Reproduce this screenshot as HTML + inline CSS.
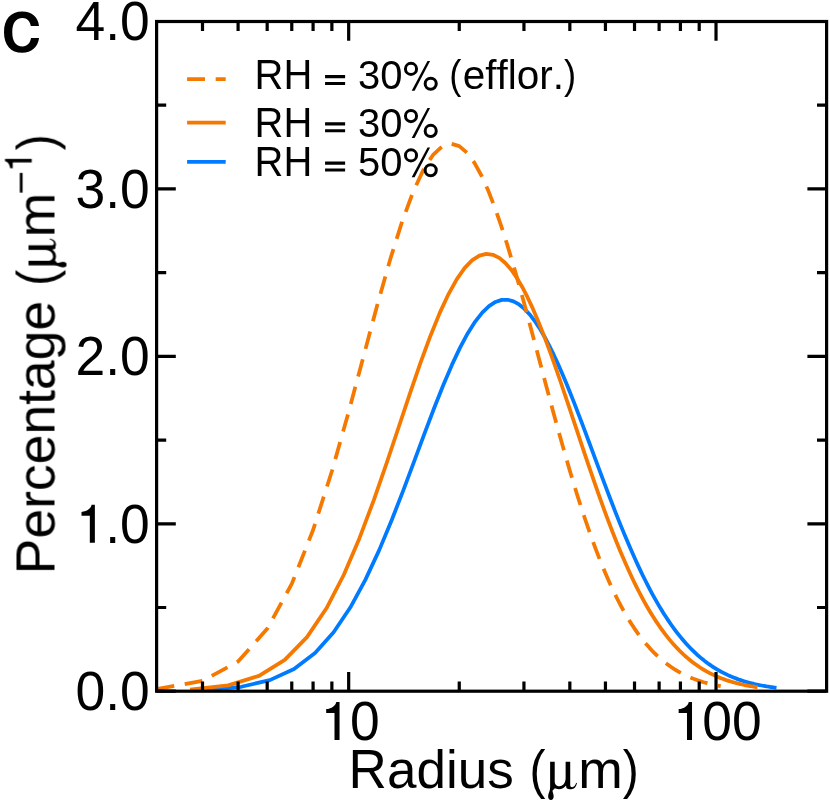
<!DOCTYPE html>
<html><head><meta charset="utf-8"><title>C</title>
<style>
html,body{margin:0;padding:0;background:#fff;}
body{width:830px;height:802px;overflow:hidden;}
svg{display:block;}
text{font-family:"Liberation Sans",sans-serif;fill:#000;font-kerning:none;font-variant-ligatures:none;white-space:pre;}
</style></head><body>
<svg width="830" height="802" viewBox="0 0 830 802">
<rect width="830" height="802" fill="#fff"/>
<defs><clipPath id="cp"><rect x="156.6" y="21.5" width="670.0" height="669.7"/></clipPath></defs>
<g clip-path="url(#cp)" fill="none" stroke-linejoin="round" stroke-linecap="butt">
<polyline points="206.43,689.94 241.25,686.76 269.82,680.10 294.04,668.94 315.06,652.90 333.63,632.20 350.26,607.54 365.32,579.89 379.09,550.35 391.75,519.99 403.49,489.81 414.42,460.63 424.65,433.12 434.27,407.79 443.33,384.97 451.91,364.89 460.05,347.64 467.80,333.23 475.19,321.59 482.25,312.60 489.01,306.11 495.49,301.94 501.73,299.89 507.72,299.76 513.50,301.34 519.08,304.44 524.47,308.87 529.69,314.45 534.74,321.02 539.63,328.40 544.38,336.48 548.99,345.11 553.47,354.18 557.83,363.59 562.07,373.24 566.21,383.06 570.24,392.97 574.17,402.91 578.00,412.82 581.75,422.67 585.41,432.40 588.98,441.99 592.48,451.40 595.91,460.62 599.26,469.63 602.54,478.41 605.76,486.95 608.91,495.25 612.00,503.28 615.03,511.06 618.01,518.58 620.93,525.84 623.80,532.85 626.62,539.59 629.39,546.09 632.11,552.33 634.79,558.33 637.42,564.10 640.01,569.63 642.56,574.94 645.07,580.02 647.54,584.90 649.97,589.57 652.37,594.04 654.73,598.32 657.05,602.42 659.34,606.33 661.60,610.08 663.83,613.66 666.03,617.09 668.20,620.36 670.34,623.49 672.45,626.48 674.53,629.33 676.58,632.06 678.61,634.66 680.62,637.15 682.60,639.52 684.55,641.79 686.48,643.96 688.39,646.02 690.28,648.00 692.14,649.88 693.98,651.68 695.81,653.40 697.61,655.04 699.39,656.61 701.15,658.10 702.89,659.53 704.61,660.90 706.32,662.20 708.00,663.44 709.67,664.63 711.32,665.76 712.96,666.85 714.58,667.88 716.18,668.87 717.76,669.82 719.33,670.72 720.89,671.58 722.43,672.40 723.95,673.19 725.47,673.94 726.96,674.66 728.44,675.35 729.91,676.01 731.37,676.63 732.81,677.24 734.24,677.81 735.66,678.36 737.06,678.88 738.45,679.39 739.83,679.87 741.20,680.33 742.56,680.77 743.90,681.19 745.24,681.59 746.56,681.98 747.87,682.35 749.17,682.70 750.47,683.04 751.75,683.36 753.02,683.67 754.28,683.97 755.53,684.25 756.77,684.53 758.00,684.79 759.22,685.04 760.43,685.28 761.63,685.51 762.83,685.73 764.01,685.94 765.19,686.14 766.36,686.34 767.52,686.52 768.67,686.70 769.81,686.87 770.95,687.04 772.07,687.20 773.19,687.35 774.30,687.49 775.41,687.63 776.50,687.76" stroke="#007bff" stroke-width="3.75"/>
<polyline points="190.06,689.71 228.22,685.36 259.00,675.87 284.79,659.89 306.98,637.12 326.46,608.29 343.82,574.75 359.47,538.19 373.72,500.30 386.81,462.64 398.90,426.49 410.14,392.85 420.64,362.44 430.49,335.71 439.77,312.90 448.53,294.06 456.85,279.11 464.75,267.89 472.27,260.14 479.46,255.58 486.34,253.91 492.93,254.80 499.26,257.93 505.35,263.02 511.22,269.77 516.88,277.91 522.34,287.21 527.62,297.44 532.74,308.41 537.69,319.94 542.50,331.88 547.16,344.09 551.69,356.45 556.10,368.87 560.39,381.25 564.57,393.53 568.64,405.65 572.61,417.55 576.48,429.20 580.26,440.56 583.95,451.61 587.56,462.32 591.09,472.69 594.54,482.70 597.92,492.36 601.23,501.65 604.48,510.57 607.66,519.14 610.77,527.35 613.83,535.21 616.83,542.73 619.77,549.92 622.66,556.79 625.50,563.34 628.29,569.59 631.03,575.55 633.72,581.22 636.37,586.63 638.98,591.77 641.55,596.67 644.07,601.33 646.56,605.76 649.00,609.97 651.41,613.97 653.79,617.77 656.13,621.39 658.43,624.82 660.70,628.08 662.94,631.18 665.15,634.12 667.33,636.92 669.48,639.57 671.61,642.09 673.70,644.48 675.77,646.76 677.81,648.91 679.82,650.96 681.81,652.91 683.77,654.75 685.71,656.51 687.63,658.17 689.53,659.75 691.40,661.26 693.25,662.68 695.08,664.04 696.89,665.33 698.68,666.55 700.45,667.71 702.20,668.82 703.93,669.87 705.64,670.87 707.33,671.81 709.01,672.72 710.67,673.57 712.31,674.39 713.93,675.16 715.54,675.90 717.13,676.60 718.71,677.27 720.27,677.91 721.81,678.51 723.35,679.08 724.86,679.63 726.36,680.15 727.85,680.65 729.33,681.12 730.79,681.57 732.24,682.00 733.67,682.41 735.09,682.80 736.50,683.17 737.90,683.52 739.28,683.85 740.66,684.18 742.02,684.48 743.37,684.77 744.71,685.05 746.03,685.32 747.35,685.57 748.66,685.81 749.95,686.04 751.23,686.26 752.51,686.47 753.77,686.67 755.03,686.86 756.27,687.04 757.51,687.22" stroke="#f57800" stroke-width="3.75"/>
<polyline points="156.60,689.12 202.50,680.88 238.09,661.51 267.18,628.83 291.77,583.91 313.08,530.01 331.87,471.30 348.68,411.83 363.88,355.00 377.76,303.28 390.53,258.28 402.35,220.86 413.36,191.27 423.66,169.32 433.33,154.54 442.45,146.26 451.07,143.72 459.26,146.15 467.04,152.77 474.46,162.86 481.55,175.74 488.34,190.83 494.86,207.59 501.11,225.56 507.13,244.35 512.94,263.63 518.53,283.13 523.94,302.61 529.17,321.89 534.24,340.82 539.15,359.29 543.91,377.22 548.54,394.52 553.03,411.16 557.40,427.11 561.66,442.35 565.80,456.87 569.84,470.68 573.78,483.78 577.62,496.20 581.38,507.93 585.04,519.02 588.63,529.48 592.14,539.34 595.57,548.63 598.92,557.36 602.21,565.57 605.44,573.29 608.60,580.54 611.69,587.34 614.73,593.73 617.72,599.72 620.64,605.33 623.52,610.60 626.34,615.54 629.12,620.16 631.84,624.50 634.52,628.56 637.16,632.37 639.76,635.94 642.31,639.29 644.82,642.42 647.29,645.36 649.73,648.11 652.13,650.69 654.49,653.11 656.82,655.37 659.12,657.50 661.38,659.49 663.61,661.36 665.81,663.11 667.98,664.75 670.12,666.30 672.24,667.74 674.32,669.10 676.38,670.38 678.41,671.57 680.42,672.70 682.40,673.75 684.36,674.75 686.29,675.68 688.20,676.55 690.09,677.38 691.96,678.15 693.80,678.88 695.62,679.56 697.43,680.21 699.21,680.81 700.97,681.39 702.72,681.92 704.44,682.43 706.15,682.90 707.84,683.35 709.51,683.78 711.16,684.17 712.80,684.55 714.42,684.90 716.02,685.24 717.61,685.55 719.18,685.85 720.73,686.13" stroke="#f57800" stroke-width="3.75" stroke-dasharray="17.9 10.68"/>
</g>
<path d="M348.68 691.2V672.0M348.68 21.5V40.7M716.02 691.2V672.0M716.02 21.5V40.7M202.50 691.2V681.6M202.50 21.5V31.1M238.09 691.2V681.6M238.09 21.5V31.1M267.18 691.2V681.6M267.18 21.5V31.1M291.77 691.2V681.6M291.77 21.5V31.1M313.08 691.2V681.6M313.08 21.5V31.1M331.87 691.2V681.6M331.87 21.5V31.1M459.26 691.2V681.6M459.26 21.5V31.1M523.94 691.2V681.6M523.94 21.5V31.1M569.84 691.2V681.6M569.84 21.5V31.1M605.44 691.2V681.6M605.44 21.5V31.1M634.52 691.2V681.6M634.52 21.5V31.1M659.12 691.2V681.6M659.12 21.5V31.1M680.42 691.2V681.6M680.42 21.5V31.1M699.21 691.2V681.6M699.21 21.5V31.1M156.6 691.20H175.79999999999998M826.6 691.20H807.4M156.6 607.49H166.2M826.6 607.49H817.0M156.6 523.78H175.79999999999998M826.6 523.78H807.4M156.6 440.06H166.2M826.6 440.06H817.0M156.6 356.35H175.79999999999998M826.6 356.35H807.4M156.6 272.64H166.2M826.6 272.64H817.0M156.6 188.93H175.79999999999998M826.6 188.93H807.4M156.6 105.21H166.2M826.6 105.21H817.0M156.6 21.50H175.79999999999998M826.6 21.50H807.4" stroke="#000" stroke-width="3.2" fill="none"/>
<rect x="156.6" y="21.5" width="670.0" height="669.7" fill="none" stroke="#000" stroke-width="3.2"/>
<g opacity="0.999">
<text transform="translate(75.47 710.10) scale(0.99 1.031)" x="0.00 30.03 45.04" y="0" font-size="54.0">0.0</text>
<path transform="translate(75.47 542.68) scale(53.460 54.000)" d="M.363 0L.363 -.704L.302 -.704C.285 -.63 .22 -.583 .113 -.570L.113 -.5L.2685 -.5L.2685 0Z"/>
<text transform="translate(105.20 542.68) scale(0.99 1.031)" x="0.00 15.00" y="0" font-size="54.0">.0</text>
<text transform="translate(75.47 375.25) scale(0.99 1.031)" x="0.00 30.03 45.04" y="0" font-size="54.0">2.0</text>
<text transform="translate(75.47 207.83) scale(0.99 1.031)" x="0.00 30.03 45.04" y="0" font-size="54.0">3.0</text>
<text transform="translate(75.47 40.40) scale(0.99 1.031)" x="0.00 30.03 45.04" y="0" font-size="54.0">4.0</text>
<path transform="translate(320.14 739.90) scale(53.460 54.000)" d="M.363 0L.363 -.704L.302 -.704C.285 -.63 .22 -.583 .113 -.570L.113 -.5L.2685 -.5L.2685 0Z"/>
<text transform="translate(349.88 739.90) scale(0.99 1.031)" x="0.00" y="0" font-size="54.0">0</text>
<path transform="translate(672.62 739.90) scale(53.460 54.000)" d="M.363 0L.363 -.704L.302 -.704C.285 -.63 .22 -.583 .113 -.570L.113 -.5L.2685 -.5L.2685 0Z"/>
<text transform="translate(702.35 739.90) scale(0.99 1.031)" x="0.00 30.03" y="0" font-size="54.0">00</text>
<text transform="translate(348.61 787.80) scale(0.982 1.045)" x="0.00" y="0" font-size="54.0">R</text>
<text transform="translate(386.91 787.80) scale(0.982 1.0)" x="0.00 30.03 60.06 72.06 102.09" y="0" font-size="54.0">adius</text>
<text transform="translate(529.61 787.80) scale(0.8910 1.0)" font-size="54.0">(</text>
<path transform="translate(547.42 787.80) scale(1.000)" d="M2.7 -26.1L7.3 -26.1L7.3 .4C7.3 1.6 5.4 1.8 5.15 2.9C4.9 4.2 6.25 5.8 6.25 8.4C6.25 10.6 5.2 12.1 3.5 12.1C1.8 12.1 .7 10.6 .7 8.4C.7 5.8 2.6 3.4 2.7 0ZM7.3 -6.5C7.3 -3 9.3 -1.5 12 -1.5C15 -1.5 18.2 -4.5 18.2 -9.5L18.2 -26.1L22.8 -26.1L22.8 -3C22.8 -1.2 23.6 -.6 24.8 -.6C26.6 -.6 27.9 -2.2 28.8 -5L29.6 -4.6C28.6 -.8 26.8 1.4 23.8 1.4C21.5 1.4 19.6 1 19 .2L18.6 -2.2C17 .3 14.5 1.4 11.5 1.4C9.5 1.4 8 1 7.3 .3Z"/>
<text transform="translate(578.22 787.80) scale(0.99 1.0)" x="0.00" y="0" font-size="54.0">m</text>
<text transform="translate(622.75 787.80) scale(0.8910 1.0)" font-size="54.0">)</text>
<g transform="translate(54.5 569.8) rotate(-90)">
<text transform="translate(-4.39 0.00) scale(0.99 1.045)" x="0.00" y="0" font-size="54.0">P</text>
<text transform="translate(31.27 0.00) scale(0.99 1.0)" x="0.00 30.03 48.01 75.01 105.05 135.08 150.08 180.11 210.15" y="0" font-size="54.0">ercentage</text>
<text transform="translate(283.90 0.00) scale(0.8910 1.0)" font-size="54.0">(</text>
<path transform="translate(301.70 0.00) scale(1.000)" d="M2.7 -26.1L7.3 -26.1L7.3 .4C7.3 1.6 5.4 1.8 5.15 2.9C4.9 4.2 6.25 5.8 6.25 8.4C6.25 10.6 5.2 12.1 3.5 12.1C1.8 12.1 .7 10.6 .7 8.4C.7 5.8 2.6 3.4 2.7 0ZM7.3 -6.5C7.3 -3 9.3 -1.5 12 -1.5C15 -1.5 18.2 -4.5 18.2 -9.5L18.2 -26.1L22.8 -26.1L22.8 -3C22.8 -1.2 23.6 -.6 24.8 -.6C26.6 -.6 27.9 -2.2 28.8 -5L29.6 -4.6C28.6 -.8 26.8 1.4 23.8 1.4C21.5 1.4 19.6 1 19 .2L18.6 -2.2C17 .3 14.5 1.4 11.5 1.4C9.5 1.4 8 1 7.3 .3Z"/>
<text transform="translate(332.51 0.00) scale(0.99 1.0)" x="0.00" y="0" font-size="54.0">m</text>
<rect x="377.20" y="-34.70" width="19.70" height="2.8"/>
<path transform="translate(397.32 -22.80) scale(37.422 37.800)" d="M.363 0L.363 -.704L.302 -.704C.285 -.63 .22 -.583 .113 -.570L.113 -.5L.2685 -.5L.2685 0Z"/>
<text transform="translate(419.56 0.00) scale(0.8910 1.0)" font-size="54.0">)</text>
</g>
<path d="M39 26C38.2 17.5 32 11.6 22.3 11.6C10.5 11.6 4 19.6 4 32.2C4 44.8 10.5 52.8 22.3 52.8C31.5 52.8 37.8 47.2 39.1 38.1L31 38.1C30.2 43.3 27.2 46.4 22.6 46.4C15.6 46.4 12.3 41 12.3 32.2C12.3 23.4 15.6 18 22.6 18C27 18 30 21 30.8 26Z"/>
<g fill="none" stroke-width="3.75">
<path d="M187.1 79.0H225.7" stroke="#f57800" stroke-dasharray="17.9 10.68"/>
<path d="M187.1 122.5H225.7" stroke="#f57800"/>
<path d="M187.1 161.9H225.7" stroke="#007bff"/>
</g>
<text transform="translate(254.52 89.40) scale(1.0 1.045)" x="0.00 28.89" y="0" font-size="40.0">RH</text>
<path transform="translate(335.09 89.40)" d="M-10.03 -14.30h20.06v3.10h-20.06zM-10.03 -7.40h20.06v3.10h-20.06z"/>
<text transform="translate(357.88 89.40) scale(1.0 1.031)" x="0.00 22.25" y="0" font-size="40.0">30</text>
<g transform="translate(402.37 89.40) scale(40.000 40.000)"><circle cx=".216" cy="-.513" r=".13875" fill="none" stroke="#000" stroke-width=".075"/><circle cx=".7085" cy="-.1425" r=".13875" fill="none" stroke="#000" stroke-width=".075"/><path d="M.628 -.7125L.693 -.7125L.3055 .034L.233 .034Z"/></g>
<text transform="translate(449.18 89.40) scale(0.9108 1.0)" font-size="40.0">(</text>
<text transform="translate(462.66 89.40) scale(1.012 1.0)" x="0.00 22.25 33.36 44.47 53.36 75.61 88.93" y="0" font-size="40.0">efflor.</text>
<text transform="translate(563.90 89.40) scale(0.9108 1.0)" font-size="40.0">)</text>
<text transform="translate(254.52 136.60) scale(1.0 1.045)" x="0.00 28.89" y="0" font-size="40.0">RH</text>
<path transform="translate(335.09 136.60)" d="M-10.03 -14.30h20.06v3.10h-20.06zM-10.03 -7.40h20.06v3.10h-20.06z"/>
<text transform="translate(357.88 136.60) scale(1.0 1.031)" x="0.00 22.25" y="0" font-size="40.0">30</text>
<g transform="translate(402.37 136.60) scale(40.000 40.000)"><circle cx=".216" cy="-.513" r=".13875" fill="none" stroke="#000" stroke-width=".075"/><circle cx=".7085" cy="-.1425" r=".13875" fill="none" stroke="#000" stroke-width=".075"/><path d="M.628 -.7125L.693 -.7125L.3055 .034L.233 .034Z"/></g>
<text transform="translate(254.52 175.90) scale(1.0 1.045)" x="0.00 28.89" y="0" font-size="40.0">RH</text>
<path transform="translate(335.09 175.90)" d="M-10.03 -14.30h20.06v3.10h-20.06zM-10.03 -7.40h20.06v3.10h-20.06z"/>
<text transform="translate(357.88 175.90) scale(1.0 1.031)" x="0.00 22.25" y="0" font-size="40.0">50</text>
<g transform="translate(402.37 175.90) scale(40.000 40.000)"><circle cx=".216" cy="-.513" r=".13875" fill="none" stroke="#000" stroke-width=".075"/><circle cx=".7085" cy="-.1425" r=".13875" fill="none" stroke="#000" stroke-width=".075"/><path d="M.628 -.7125L.693 -.7125L.3055 .034L.233 .034Z"/></g>
</g>
</svg></body></html>
